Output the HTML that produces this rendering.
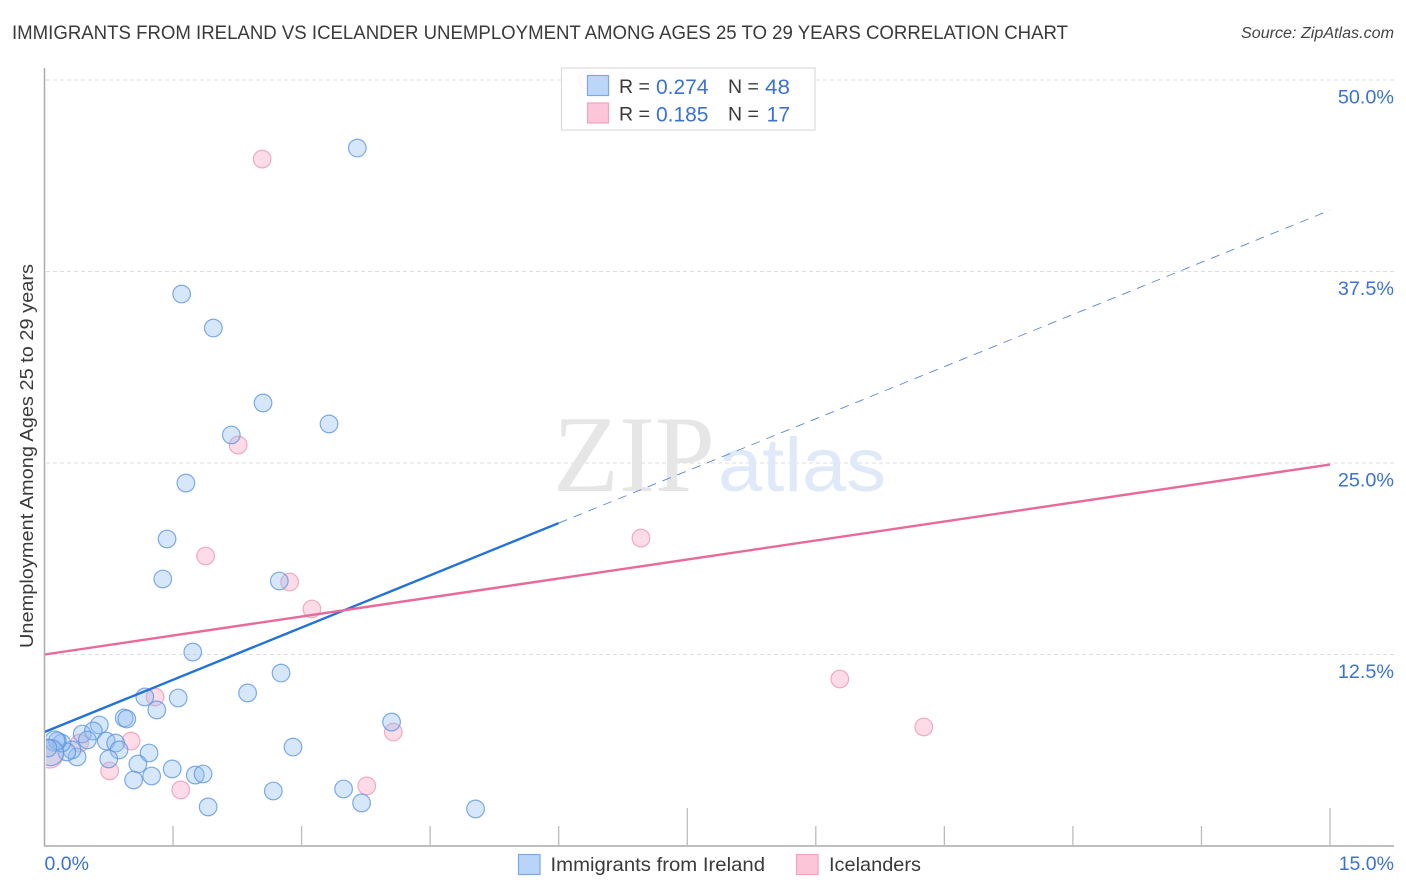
<!DOCTYPE html>
<html>
<head>
<meta charset="utf-8">
<title>Immigrants from Ireland vs Icelander Unemployment Correlation Chart</title>
<style>
html,body{margin:0;padding:0;background:#fff;}
svg{display:block;font-family:"Liberation Sans",sans-serif;}
</style>
</head>
<body>
<svg id="chart" xmlns="http://www.w3.org/2000/svg" width="1406" height="892" viewBox="0 0 1406 892">
  <defs><clipPath id="plot-clip"><rect x="46" y="60" width="1350" height="786"/></clipPath></defs>
  <text x="12" y="39" font-size="19.5" fill="#3a3a3a" textLength="1056" lengthAdjust="spacingAndGlyphs">IMMIGRANTS FROM IRELAND VS ICELANDER UNEMPLOYMENT AMONG AGES 25 TO 29 YEARS CORRELATION CHART</text>
  <text x="1394" y="38" font-size="15.5" font-style="italic" fill="#444" text-anchor="end" textLength="153" lengthAdjust="spacingAndGlyphs">Source: ZipAtlas.com</text>
  <g id="grid"></g>
  <g>
    <text x="553" y="491" font-family="'Liberation Serif',serif" font-size="109" fill="#e6e6e6" textLength="162" lengthAdjust="spacingAndGlyphs">ZIP</text>
    <text x="718" y="491" font-size="76" fill="#dfe9f8" textLength="168" lengthAdjust="spacingAndGlyphs">atlas</text>
  </g>
  <g id="points" clip-path="url(#plot-clip)"></g>
  <rect x="0" y="680" width="45" height="130" fill="#fff"/>
  <g id="lines"></g>
  <g id="axes"></g>
  <text transform="translate(33,456) rotate(-90)" font-size="18.5" fill="#3a3a3a" text-anchor="middle" textLength="384" lengthAdjust="spacingAndGlyphs">Unemployment Among Ages 25 to 29 years</text>

  <g>
    <rect x="561.5" y="68" width="253.5" height="62" fill="#fff" fill-opacity="0.86" stroke="#dcdcdc" stroke-width="1.2"/>
    <rect x="587.5" y="75.5" width="21" height="20" fill="#b8d4f9" fill-opacity="0.95" stroke="#7aaae6" stroke-width="1.2"/>
    <rect x="587.5" y="103" width="21" height="20" fill="#fcc5d8" stroke="#f2a3bd" stroke-width="1.2"/>
    <g font-size="19.5" fill="#3a3a3a">
      <text x="619" y="93">R =</text>
      <text x="728" y="93">N =</text>
      <text x="619" y="120.5">R =</text>
      <text x="728" y="120.5">N =</text>
    </g>
    <g font-size="21" fill="#3b73cf" text-anchor="end">
      <text x="708.5" y="94">0.274</text>
      <text x="790" y="94" textLength="25" lengthAdjust="spacingAndGlyphs">48</text>
      <text x="708.5" y="121.5">0.185</text>
      <text x="790" y="121.5">17</text>
    </g>
  </g>

  <g>
    <rect x="518.5" y="854.5" width="21.5" height="20" fill="#b8d4f9" stroke="#7aaae6" stroke-width="1.2"/>
    <text x="550.5" y="871" font-size="19.5" fill="#3a3a3a" textLength="214.5" lengthAdjust="spacingAndGlyphs">Immigrants from Ireland</text>
    <rect x="796.5" y="854.5" width="21.5" height="20" fill="#fcc5d8" stroke="#f2a3bd" stroke-width="1.2"/>
    <text x="829" y="871" font-size="19.5" fill="#3a3a3a" textLength="92" lengthAdjust="spacingAndGlyphs">Icelanders</text>
  </g>
</svg>
<script>
var blueX = [3.65,1.60,1.97,2.55,2.18,3.32,1.65,1.43,1.38,2.74,1.73,2.76,1.17,1.56,2.37,1.31,0.93,0.96,4.05,0.64,0.44,0.57,0.72,0.83,0.87,1.22,2.90,0.75,1.09,1.49,1.76,1.85,1.25,1.04,2.67,3.49,3.70,1.91,5.03,0.38,0.32,0.26,0.50,0.20,0.15,0.12,0.07,0.04];
var blueY = [45.56,36.03,33.81,28.92,26.83,27.55,23.69,20.04,17.43,17.30,12.66,11.29,9.73,9.66,9.99,8.88,8.36,8.29,8.09,7.90,7.31,7.51,6.85,6.72,6.27,6.07,6.46,5.68,5.35,5.03,4.63,4.70,4.57,4.31,3.59,3.72,2.81,2.55,2.42,5.81,6.27,6.14,6.92,6.72,6.85,6.85,6.10,6.40];
var blueWeight = [1,1,1,1,1,1,1,1,1,1,1,1,1,1,1,1,1,1,1,1,1,1,1,1,1,1,1,1,1,1,1,1,1,1,1,1,1,1,1,1,1,1,1,1,1,1.3,2.2,1];
var pinkX = [6.33,2.54,2.26,1.88,2.86,3.12,6.96,1.29,9.28,10.26,4.07,1.01,0.76,1.59,3.76,0.41,0.06];
var pinkY = [50,44.84,26.17,18.93,17.23,15.47,20.10,9.73,10.90,7.77,7.44,6.85,4.90,3.66,3.92,6.72,6.0];
var pinkWeight = [1,1,1,1,1,1,1,1,1,1,1,1,1,1,1,1,2.5];
var blueTrendX = [0,6,15];
var blueTrendY = [7.44,21.08,41.5];
var pinkTrendX = [0,15];
var pinkTrendY = [12.5,24.9];
var xTicks = [0,1.5,3,4.5,6,7.5,9,10.5,12,13.5,15];
var xMajorTicks = [7.5,15];
var yTicks = [12.5,25,37.5,50];
var yTickLabels = ['12.5%','25.0%','37.5%','50.0%'];
var xEndTicks = [0,15];
var xEndLabels = ['0.0%','15.0%'];

var NS = 'http://www.w3.org/2000/svg';
function xScale(v){ return 44.5 + v * 85.7; }
function yScale(v){ return 846 - v * 15.32; }
function make(tag, parent, attrs){
  var el = document.createElementNS(NS, tag);
  for (var k in attrs) el.setAttribute(k, attrs[k]);
  parent.appendChild(el);
  return el;
}
var grid = document.getElementById('grid');
var axes = document.getElementById('axes');
var points = document.getElementById('points');
var lines = document.getElementById('lines');

yTicks.forEach(function(v, i){
  var line = make('line', grid, {x1:46, x2:1394, y1:yScale(v), y2:yScale(v), stroke:'#dedede', 'stroke-width':1, 'stroke-dasharray':'4 3'});
  
  
  var label = make('text', axes, {x:1394, y:yScale(v)+23.5, 'font-size':19.8, fill:'#3b73cf', 'text-anchor':'end'});
  label.textContent = yTickLabels[i];
  
  
});

var yAxisLine = make('line', axes, {x1:44.5, x2:44.5, y1:68, y2:846, stroke:'#aaa', 'stroke-width':1.5});


var xAxisLine = make('line', axes, {x1:44, x2:1394, y1:846, y2:846, stroke:'#aaa', 'stroke-width':1.5});



xTicks.forEach(function(v){
  if (v === 0) return;
  var tick = make('line', axes, {x1:xScale(v), x2:xScale(v), y1:846, y2:xMajorTicks.indexOf(v) >= 0 ? 808 : 826, stroke:'#bbb', 'stroke-width':1.3});
  
  
});
xEndTicks.forEach(function(v, i){
  var label = make('text', axes, {x: i === 0 ? xScale(v) : 1394, y:870, 'font-size':19.5, fill:'#3b73cf', 'text-anchor': i === 0 ? 'start' : 'end'});
  label.textContent = xEndLabels[i];
  
  
});

pinkX.forEach(function(v, i){
  var c = make('circle', points, {cx:xScale(v), cy:yScale(pinkY[i]), r:8.8*Math.sqrt(pinkWeight[i]), fill:'#f9a8c4', 'fill-opacity':0.4, stroke:'#ee9db8', 'stroke-opacity':0.85, 'stroke-width':1.2});
  
  
});
blueX.forEach(function(v, i){
  var c = make('circle', points, {cx:xScale(v), cy:yScale(blueY[i]), r:8.8*Math.sqrt(blueWeight[i]), fill:'#8fbcf2', 'fill-opacity':0.36, stroke:'#5f97de', 'stroke-opacity':0.8, 'stroke-width':1.2});
  
  
});

var blueSolid = make('line', lines, {x1:xScale(blueTrendX[0]), y1:yScale(blueTrendY[0]), x2:xScale(blueTrendX[1]), y2:yScale(blueTrendY[1]), stroke:'#2272d8', 'stroke-width':2.4});


var blueDash = make('line', lines, {x1:xScale(blueTrendX[1]), y1:yScale(blueTrendY[1]), x2:xScale(blueTrendX[2]), y2:yScale(blueTrendY[2]), stroke:'#5a86d8', 'stroke-width':0.9, 'stroke-dasharray':'9 7'});


var pinkLine = make('line', lines, {x1:xScale(pinkTrendX[0]), y1:yScale(pinkTrendY[0]), x2:xScale(pinkTrendX[1]), y2:yScale(pinkTrendY[1]), stroke:'#e96a9a', 'stroke-width':2.4});


</script>
</body>
</html>
